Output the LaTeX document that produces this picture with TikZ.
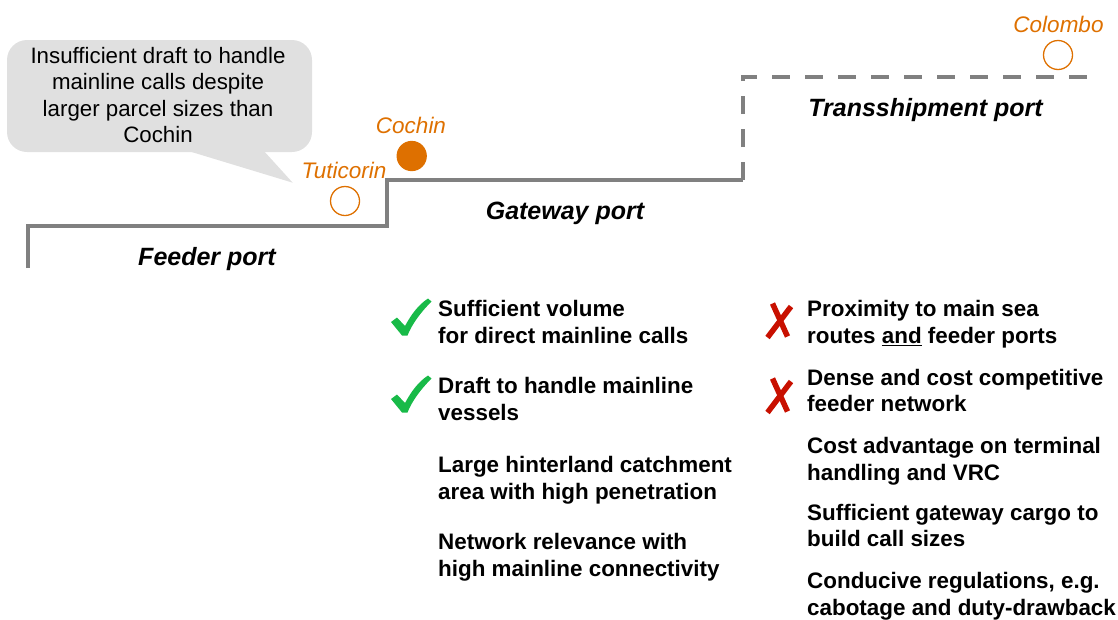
\documentclass[tikz,border=0pt]{standalone}
\usepackage{fontspec}
\setmainfont{Liberation Sans}
\definecolor{portorange}{RGB}{222,112,0}
\definecolor{stepgray}{RGB}{128,128,128}
\definecolor{bubblegray}{RGB}{224,224,224}
\definecolor{okgreen}{RGB}{24,186,72}
\definecolor{nored}{RGB}{200,16,0}
\tikzset{
  stepline/.style={draw=stepgray, line width=4pt},
  porttype/.style={anchor=base, inner sep=0pt, font=\fontsize{25}{29}\selectfont\bfseries\itshape},
  cityname/.style={anchor=base, inner sep=0pt, text=portorange, font=\fontsize{22.5}{26}\selectfont\itshape},
  portdot/.style={circle, draw=portorange, line width=1.3pt, minimum size=29pt, inner sep=0pt},
  % multi-line nodes: the base anchor sits on the last line
  criterion/.style={anchor=base west, inner sep=0pt, align=left, font=\fontsize{22.4}{26.7}\selectfont\bfseries},
  bubbletext/.style={anchor=base, inner sep=0pt, align=center, font=\fontsize{22.3}{26.5}\selectfont},
  tick/.style={fill=okgreen},
  cross/.style={draw=nored, line width=5.5pt},
}
\begin{document}
\begin{tikzpicture}[x=1pt, y=-1pt]
\useasboundingbox (0,0) rectangle (1118,619);

% speech bubble
\fill[bubblegray, rounded corners=20pt] (7,40) rectangle (312,152);
\fill[bubblegray] (185,150) -- (292.7,182.7) -- (263,150) -- cycle;
\node[bubbletext] (note) at (158,142.7)
  {Insufficient draft to handle\\mainline calls despite\\larger parcel sizes than\\Cochin};

% staircase of port types
\draw[stepline] (28,268) -- (28,226) -- (387,226) -- (387,180) -- (743,180);
\draw[stepline, dash pattern=on 18pt off 15pt] (743,180) -- (743,77) -- (1092,77);

\node[porttype] (feeder) at (207,265) {Feeder port};
\node[porttype] (gateway) at (565,219.3) {Gateway port};
\node[porttype] (tranship) at (925.5,116.7) {Transshipment port};

% ports
\node[portdot] (tut) at (345,201) {};
\node[portdot, fill=portorange] (coc) at (411.7,156) {};
\node[portdot] (col) at (1058,55) {};
\node[cityname] (tutlbl) at (344,178.3) {Tuticorin};
\node[cityname] (coclbl) at (411,133.3) {Cochin};
\node[cityname] (collbl) at (1058.5,32) {Colombo};

% gateway port criteria
\node[criterion] (g1) at (438,343.3) {Sufficient volume\\for direct mainline calls};
\node[criterion] (g2) at (438,420) {Draft to handle mainline\\vessels};
\node[criterion] (g3) at (438,499.3) {Large hinterland catchment\\area with high penetration};
\node[criterion] (g4) at (438,576) {Network relevance with\\high mainline connectivity};

% transshipment port criteria
\node[criterion] (t1) at (807,343.3) {Proximity to main sea\\routes \underline{and} feeder ports};
\node[criterion] (t2) at (807,411.7) {Dense and cost competitive\\feeder network};
\node[criterion] (t3) at (807,480) {Cost advantage on terminal\\handling and VRC};
\node[criterion] (t4) at (807,546.7) {Sufficient gateway cargo to\\build call sizes};
\node[criterion] (t5) at (807,615) {Conducive regulations, e.g.\\cabotage and duty-drawback};

% ticks
\foreach \dy in {0,77}{
  \fill[tick, shift={(0,\dy)}] (391,322) -- (397,317.5) -- (405,326)
    .. controls (411,315) and (418,305) .. (428,298.5) -- (431.5,301.5)
    .. controls (421,312) and (412,324) .. (407.5,335.5) -- (402,335.5) -- cycle;
}

% crosses
\foreach \dy in {0,75}{
  \begin{scope}[shift={(0,\dy)}]
    \draw[cross] (772.5,303.5) -- (787.5,336.5);
    \draw[cross] (791,306.5) -- (767.5,337.5);
  \end{scope}
}
\end{tikzpicture}
\end{document}
